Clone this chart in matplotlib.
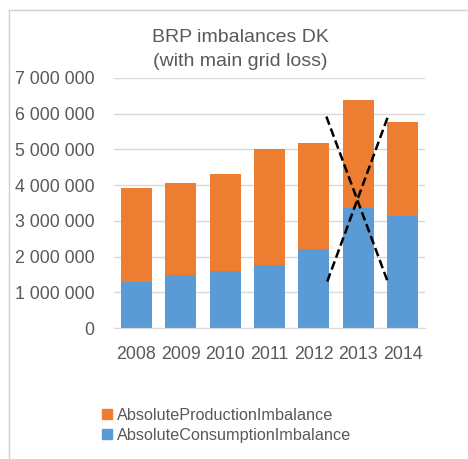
import numpy as np
import matplotlib.pyplot as plt
from matplotlib.patches import Patch
from matplotlib.lines import Line2D
from matplotlib.ticker import FuncFormatter

plt.rcParams['font.family'] = ['Liberation Sans', 'DejaVu Sans']

# data (MWh)
years = ["2008", "2009", "2010", "2011", "2012", "2013", "2014"]
consumption = [1290000, 1490000, 1590000, 1760000, 2220000, 3370000, 3140000]
production = [2640000, 2570000, 2730000, 3250000, 2960000, 3020000, 2640000]

# the dashed cross drawn over 2013
cross_a_x = [4.30, 5.68]
cross_a_y = [1300000, 5970000]
cross_b_x = [4.28, 5.66]
cross_b_y = [5920000, 1300000]

orange = "#ED7D31"
blue = "#5B9BD5"
grey_txt = "#595959"

fig = plt.figure(figsize=(4.68, 4.59), dpi=100)
ax = fig.add_axes([0.2436, 0.2854, 0.6645, 0.5447])

x = np.arange(len(years))
ax.bar(x, consumption, width=0.7, color=blue, zorder=2)
ax.bar(x, production, width=0.7, bottom=consumption, color=orange, zorder=2)

ax.plot(cross_a_x, cross_a_y, color="black", lw=1.8, dashes=(3.5, 1.6), zorder=3)
ax.plot(cross_b_x, cross_b_y, color="black", lw=1.8, dashes=(3.5, 1.6), zorder=3)

ax.set_xlim(-0.5, 6.5)
ax.set_ylim(0, 7000000)
ax.set_yticks(np.arange(0, 7000001, 1000000))
ax.yaxis.set_major_formatter(FuncFormatter(lambda v, p: f"{int(v):,}".replace(",", " ")))
ax.set_xticks(x)
ax.set_xticklabels(years)
ax.tick_params(axis="both", length=0, labelsize=12.8, colors=grey_txt)
ax.tick_params(axis="x", pad=13)
ax.tick_params(axis="y", pad=14)

ax.grid(axis="y", color="#D9D9D9", lw=1, zorder=0)
for s in ["top", "right", "left"]:
    ax.spines[s].set_visible(False)
ax.spines["bottom"].set_color("#D9D9D9")

fig.text(240 / 468, 1 - 37 / 459, "BRP imbalances DK", ha="center", va="center",
         fontsize=14, color=grey_txt)
fig.text(240 / 468, 1 - 61 / 459, "(with main grid loss)", ha="center", va="center",
         fontsize=14, color=grey_txt)

handles = [Patch(color=orange), Patch(color=blue)]
fig.legend(handles, ["AbsoluteProductionImbalance", "AbsoluteConsumptionImbalance"],
           loc="upper left", bbox_to_anchor=(0.218, 0.111), frameon=False,
           fontsize=11.7, labelcolor=grey_txt, handlelength=0.6, handleheight=0.6,
           handletextpad=0.35, labelspacing=0.28, borderpad=0, borderaxespad=0)

# outer chart frame
fig.add_artist(Line2D([9 / 468, 9 / 468], [0, 1 - 10 / 459], color="#D0D0D0", lw=1))
fig.add_artist(Line2D([9 / 468, 1], [1 - 10 / 459, 1 - 10 / 459], color="#D0D0D0", lw=1))

fig.savefig("out.png", dpi=100)
